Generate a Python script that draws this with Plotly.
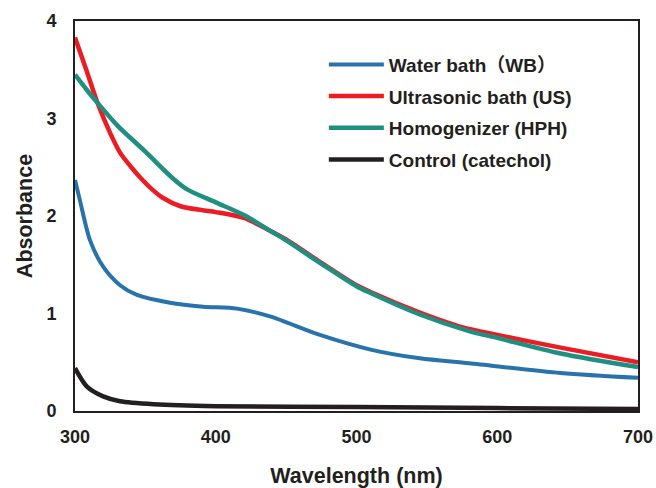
import plotly.graph_objects as go

# ---- data ----
wl_wb = [300, 303.5, 310.7, 320, 332, 344, 367.5, 391, 415, 438.5, 474, 510, 545, 580, 645, 700]
abs_wb = [2.37, 2.16, 1.75, 1.48, 1.29, 1.19, 1.11, 1.07, 1.05, 0.97, 0.78, 0.63, 0.54, 0.49, 0.39, 0.34]

wl_us = [300, 308, 316, 325, 332, 340, 346, 355, 362, 375, 390, 400, 420, 438.5, 450, 474, 500, 510, 545, 575, 600, 645, 700]
abs_us = [3.83, 3.5, 3.16, 2.85, 2.65, 2.5, 2.4, 2.27, 2.19, 2.1, 2.06, 2.04, 1.98, 1.85, 1.76, 1.53, 1.29, 1.22, 1.01, 0.86, 0.78, 0.65, 0.50]

wl_hph = [300, 308, 316, 330, 350, 370, 380, 400, 420, 438.5, 450, 474, 500, 510, 545, 580, 600, 645, 700]
abs_hph = [3.45, 3.3, 3.16, 2.93, 2.66, 2.38, 2.27, 2.14, 2.01, 1.85, 1.75, 1.52, 1.28, 1.21, 0.99, 0.82, 0.75, 0.59, 0.45]

wl_ctrl = [300, 308.5, 320, 332, 356, 400, 500, 600, 700]
abs_ctrl = [0.44, 0.25, 0.15, 0.10, 0.07, 0.05, 0.04, 0.03, 0.02]

names = ["Water bath（WB）", "Ultrasonic bath (US)", "Homogenizer (HPH)", "Control (catechol)"]
colors = ["#2873AC", "#EC1C24", "#1E8F80", "#231F20"]
widths = [4, 4.5, 4.5, 4.5]

x_ticks = [300, 400, 500, 600, 700]
y_ticks = [0, 1, 2, 3, 4]

series = [(wl_wb, abs_wb), (wl_us, abs_us), (wl_hph, abs_hph), (wl_ctrl, abs_ctrl)]

FONT = "Liberation Sans, Arial, Noto Sans CJK SC, sans-serif"

fig = go.Figure()
for i, ((x, y), n, c, w) in enumerate(zip(series, names, colors, widths)):
    fig.add_trace(go.Scatter(
        x=x, y=y, name=n, mode="lines",
        line=dict(color=c, width=w, shape="spline", smoothing=0.8),
        legendgroup=f"g{i}",
    ))

fig.update_layout(
    width=656, height=488,
    margin=dict(l=75, r=18, t=21, b=77),
    paper_bgcolor="white", plot_bgcolor="white",
    font=dict(family=FONT, color="#231F20"),
    showlegend=True,
    legend=dict(
        x=0.442, y=0.937, xanchor="left", yanchor="top",
        bgcolor="rgba(0,0,0,0)",
        font=dict(family=FONT, size=19, weight="bold", color="#231F20"),
        itemwidth=55, traceorder="grouped", tracegroupgap=4,
    ),
    xaxis=dict(
        range=[300, 700], tickvals=x_ticks,
        showgrid=False, zeroline=False, automargin=False,
        showline=True, linecolor="#231F20", linewidth=2, mirror=True,
        ticks="", ticklabelstandoff=8, tickfont=dict(size=18, weight="bold"),
        title=dict(text="Wavelength (nm)", font=dict(size=21.5, weight="bold"), standoff=26),
    ),
    yaxis=dict(
        range=[0, 4], tickvals=y_ticks,
        showgrid=False, zeroline=False, automargin=False,
        showline=True, linecolor="#231F20", linewidth=2, mirror=True,
        ticks="", ticklabelstandoff=13, tickfont=dict(size=18, weight="bold"),
        title=dict(text="Absorbance", font=dict(size=21.5, weight="bold"), standoff=8),
    ),
)

fig.write_html("out.html")
